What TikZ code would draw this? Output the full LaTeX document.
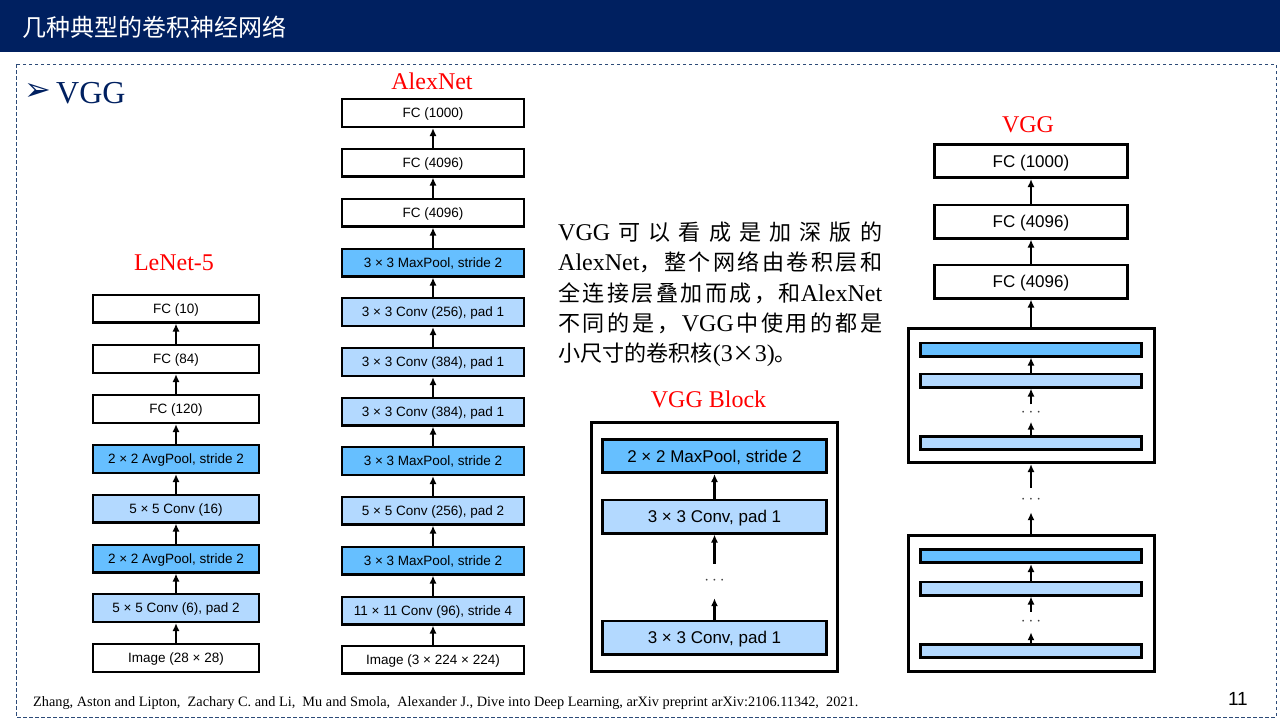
\documentclass[tikz,border=0pt]{standalone}
\usepackage{fontspec}
\setmainfont{Liberation Serif}
\newfontfamily\arial{Liberation Sans}
\newfontfamily\cjk{Noto Sans CJK SC}
\newfontfamily\cjkt[Scale=0.92]{Noto Sans CJK SC}
\newfontfamily\dejavu{DejaVu Sans}
\usetikzlibrary{arrows.meta}

\definecolor{azulosc}{RGB}{0,32,96}
\definecolor{azulmarco}{RGB}{45,75,120}
\definecolor{convazul}{RGB}{179,217,255}
\definecolor{poolazul}{RGB}{102,191,255}

\tikzset{
  capa/.style={draw, line width=2.4pt, fill=white, minimum height=27.6pt, inner sep=0pt,
    text height=9.7pt, text depth=0pt, font=\arial\fontsize{13.5}{16}\selectfont},
  lenet/.style={capa, minimum width=165.6pt},
  alex/.style={capa, minimum width=181.6pt},
  grande/.style={draw, line width=2.8pt, fill=white, minimum height=33.2pt, inner sep=0pt,
    text height=12.2pt, text depth=0pt, font=\arial\fontsize{17}{20}\selectfont},
  bloque/.style={draw, line width=3pt, fill=white, inner sep=0pt},
  barra/.style={draw, line width=2.6pt, minimum width=221.4pt, minimum height=13.4pt, inner sep=0pt},
  conv/.style={fill=convazul},
  pool/.style={fill=poolazul},
  flecha/.style={-{Latex[length=8pt,width=7pt]}, line width=2.3pt},
  puntos/.style={inner sep=0pt, text=black!75, font=\fontsize{17}{17}\selectfont},
  titulo/.style={text=red, font=\fontsize{24}{28}\selectfont},
  parrafo/.style={anchor=base west, inner sep=0pt, font=\fontsize{24}{28}\selectfont},
}

\begin{document}
\begin{tikzpicture}[x=1pt, y=-1pt]
    \useasboundingbox (0,0) rectangle (1280,720);

    % Cabecera
    \fill[azulosc] (0,0) rectangle (1280,52);
    \node[anchor=west, inner sep=0pt, text=white, font=\cjk\fontsize{24}{28}\selectfont] (cab) at (22,27) {几种典型的卷积神经网络};

    % Marco
    \draw[azulmarco, line width=0.9pt, dash pattern=on 3.5pt off 2.5pt] (16,64) rectangle (1276,717);

    % Apartado
    \node[inner sep=0pt, text=azulosc, font=\dejavu\fontsize{32}{34}\selectfont] (flechita) at (38,92) {➢};
    \node[anchor=base west, inner sep=0pt, text=azulosc, font=\fontsize{32}{36}\selectfont] (sec) at (56,103) {VGG};

    % Titulos
    \node[titulo] (tle) at (174,263) {LeNet-5};
    \node[titulo] (tal) at (432,81) {AlexNet};
    \node[titulo] (tbl) at (708.5,399) {VGG Block};
    \node[titulo] (tvg) at (1028,125) {VGG};

    % LeNet-5
    \node[lenet] (le1) at (176,658) {Image (28 × 28)};
    \node[lenet, conv] (le2) at (176,608) {5 × 5 Conv (6), pad 2};
    \node[lenet, pool] (le3) at (176,558.5) {2 × 2 AvgPool, stride 2};
    \node[lenet, conv] (le4) at (176,508.5) {5 × 5 Conv (16)};
    \node[lenet, pool] (le5) at (176,459) {2 × 2 AvgPool, stride 2};
    \node[lenet] (le6) at (176,409) {FC (120)};
    \node[lenet] (le7) at (176,359) {FC (84)};
    \node[lenet] (le8) at (176,308.5) {FC (10)};
    \draw[flecha] (le1.north) -- (le2.south);
    \draw[flecha] (le2.north) -- (le3.south);
    \draw[flecha] (le3.north) -- (le4.south);
    \draw[flecha] (le4.north) -- (le5.south);
    \draw[flecha] (le5.north) -- (le6.south);
    \draw[flecha] (le6.north) -- (le7.south);
    \draw[flecha] (le7.north) -- (le8.south);

    % AlexNet
    \node[alex] (al1) at (433,659.5) {Image (3 × 224 × 224)};
    \node[alex, conv] (al2) at (433,610.5) {11 × 11 Conv (96), stride 4};
    \node[alex, pool] (al3) at (433,560.5) {3 × 3 MaxPool, stride 2};
    \node[alex, conv] (al4) at (433,510.5) {5 × 5 Conv (256), pad 2};
    \node[alex, pool] (al5) at (433,461) {3 × 3 MaxPool, stride 2};
    \node[alex, conv] (al6) at (433,411.5) {3 × 3 Conv (384), pad 1};
    \node[alex, conv] (al7) at (433,362) {3 × 3 Conv (384), pad 1};
    \node[alex, conv] (al8) at (433,312) {3 × 3 Conv (256), pad 1};
    \node[alex, pool] (al9) at (433,262.5) {3 × 3 MaxPool, stride 2};
    \node[alex] (al10) at (433,212.5) {FC (4096)};
    \node[alex] (al11) at (433,162.5) {FC (4096)};
    \node[alex] (al12) at (433,113) {FC (1000)};
    \draw[flecha] (al1.north) -- (al2.south);
    \draw[flecha] (al2.north) -- (al3.south);
    \draw[flecha] (al3.north) -- (al4.south);
    \draw[flecha] (al4.north) -- (al5.south);
    \draw[flecha] (al5.north) -- (al6.south);
    \draw[flecha] (al6.north) -- (al7.south);
    \draw[flecha] (al7.north) -- (al8.south);
    \draw[flecha] (al8.north) -- (al9.south);
    \draw[flecha] (al9.north) -- (al10.south);
    \draw[flecha] (al10.north) -- (al11.south);
    \draw[flecha] (al11.north) -- (al12.south);

    % Texto
    \node[parrafo] (p1) at (558,240) {\makebox[324pt][s]{VGG\hfil{\cjkt 可\hfil 以\hfil 看\hfil 成\hfil 是\hfil 加\hfil 深\hfil 版\hfil 的}}};
    \node[parrafo] (p2) at (558,270.5) {\makebox[324pt][s]{AlexNet{\cjkt ，\hfil 整\hfil 个\hfil 网\hfil 络\hfil 由\hfil 卷\hfil 积\hfil 层\hfil 和}}};
    \node[parrafo] (p3) at (558,301) {\makebox[324pt][s]{{\cjkt 全\hfil 连\hfil 接\hfil 层\hfil 叠\hfil 加\hfil 而\hfil 成\hfil ，\hfil 和}AlexNet}};
    \node[parrafo] (p4) at (558,331.5) {\makebox[324pt][s]{{\cjkt 不\hfil 同\hfil 的\hfil 是\hfil ，}\hfil VGG\hfil{\cjkt 中\hfil 使\hfil 用\hfil 的\hfil 都\hfil 是}}};
    \node[parrafo] (p5) at (558,361) {{\cjkt 小尺寸的卷积核}(3{\cjkt ×}3){\cjkt 。}};

    % Bloque VGG
    \node[bloque, minimum width=246pt, minimum height=249pt] (blq) at (714.5,547) {};
    \node[grande, pool, minimum width=224pt] (bq3) at (714.5,456) {2 × 2 MaxPool, stride 2};
    \node[grande, conv, minimum width=224pt] (bq2) at (714.5,516.5) {3 × 3 Conv, pad 1};
    \node[puntos, minimum height=34pt] (bqp) at (714.5,581) {$\cdots$};
    \node[grande, conv, minimum width=224pt] (bq1) at (714.5,637.5) {3 × 3 Conv, pad 1};
    \draw[flecha] (bq1.north) -- (bqp.south);
    \draw[flecha] (bqp.north) -- (bq2.south);
    \draw[flecha] (bq2.north) -- (bq3.south);

    % VGG
    \node[grande, minimum width=193pt] (fc3) at (1031,161) {FC (1000)};
    \node[grande, minimum width=193pt] (fc2) at (1031,221.5) {FC (4096)};
    \node[grande, minimum width=193pt] (fc1) at (1031,281.5) {FC (4096)};
    \draw[flecha] (fc1.north) -- (fc2.south);
    \draw[flecha] (fc2.north) -- (fc3.south);

    \node[bloque, minimum width=246pt, minimum height=134pt] (vb1) at (1031,395.5) {};
    \node[barra, pool] (vb1a) at (1031,349.5) {};
    \node[barra, conv] (vb1b) at (1031,380.5) {};
    \node[puntos, minimum height=17pt] (vb1p) at (1031,413) {$\cdots$};
    \node[barra, conv] (vb1c) at (1031,443) {};
    \draw[flecha] (vb1c.north) -- (vb1p.south);
    \draw[flecha] (vb1p.north) -- (vb1b.south);
    \draw[flecha] (vb1b.north) -- (vb1a.south);
    \draw[flecha] (vb1.north) -- (fc1.south);

    \node[puntos, minimum height=24pt] (vbp) at (1031,500) {$\cdots$};

    \node[bloque, minimum width=246pt, minimum height=136pt] (vb2) at (1031,603.5) {};
    \node[barra, pool] (vb2a) at (1031,556) {};
    \node[barra, conv] (vb2b) at (1031,588.5) {};
    \node[puntos, minimum height=20pt] (vb2p) at (1031,622) {$\cdots$};
    \node[barra, conv] (vb2c) at (1031,651) {};
    \draw[flecha] (vb2c.north) -- (vb2p.south);
    \draw[flecha] (vb2p.north) -- (vb2b.south);
    \draw[flecha] (vb2b.north) -- (vb2a.south);
    \draw[flecha] (vb2.north) -- (vbp.south);
    \draw[flecha] (vbp.north) -- (vb1.south);

    % Referencia y pagina
    \node[anchor=base west, inner sep=0pt, font=\fontsize{14.3}{16}\selectfont] (ref) at (33,706) {Zhang, Aston and Lipton,\ \ Zachary C. and Li,\ \ Mu and Smola,\ \ Alexander J., Dive into Deep Learning, arXiv preprint arXiv:2106.11342,\ \ 2021.};
    \node[anchor=base east, inner sep=0pt, font=\arial\fontsize{19}{20}\selectfont] (pag) at (1248,705) {11};
\end{tikzpicture}
\end{document}
